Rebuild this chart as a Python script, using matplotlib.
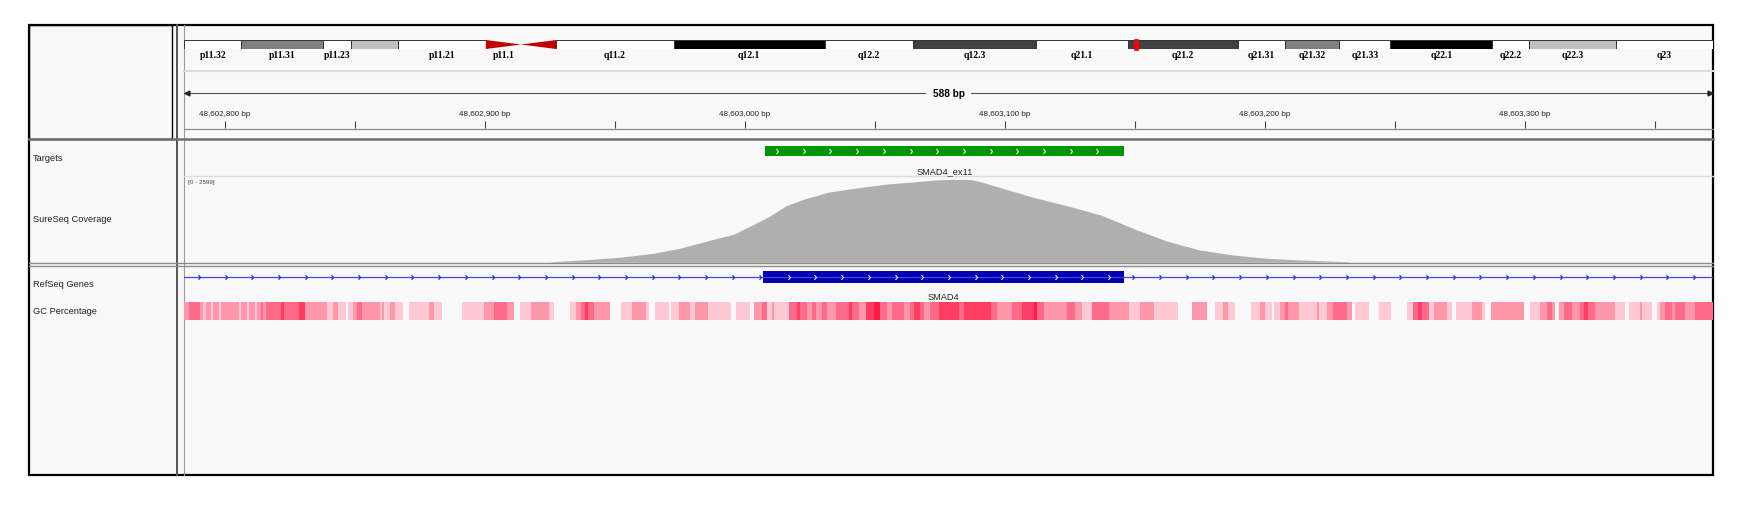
import matplotlib
matplotlib.use("Agg")
import matplotlib.pyplot as plt
from matplotlib.patches import Rectangle, Polygon
from matplotlib.path import Path
import numpy as np

plt.rcParams['font.family'] = ['Liberation Sans', 'DejaVu Sans']

W, H = 1745, 510

# region shown (chr18)
chrom_len = 78.077248          # Mb
view_start = 48602784.5
view_end = 48603372.5
locus_mb = 48.603

# cytobands of chr18 (Mb)
band_name = ['p11.32', 'p11.31', 'p11.23', '', 'p11.21', 'p11.1', '', 'q11.2', 'q12.1', 'q12.2',
             'q12.3', 'q21.1', 'q21.2', 'q21.31', 'q21.32', 'q21.33', 'q22.1', 'q22.2', 'q22.3', 'q23']
band_start = [0.0, 2.9, 7.1, 8.5, 10.9, 15.4, 17.2, 19.0, 25.0, 32.7,
              37.2, 43.5, 48.2, 53.8, 56.2, 59.0, 61.6, 66.8, 68.7, 73.1]
band_end = [2.9, 7.1, 8.5, 10.9, 15.4, 17.2, 19.0, 25.0, 32.7, 37.2,
            43.5, 48.2, 53.8, 56.2, 59.0, 61.6, 66.8, 68.7, 73.1, 78.077248]
band_stain = ['gneg', 'gpos50', 'gneg', 'gpos25', 'gneg', 'acen_p', 'acen_q', 'gneg', 'gpos100', 'gneg',
              'gpos75', 'gneg', 'gpos75', 'gneg', 'gpos50', 'gneg', 'gpos100', 'gneg', 'gpos25', 'gneg']
stain_color = {'gneg': 'white', 'gpos25': '#c0c0c0', 'gpos50': '#808080',
               'gpos75': '#404040', 'gpos100': 'black', 'acen_p': '#c00000', 'acen_q': '#c00000'}

tick_major = [48602800, 48602900, 48603000, 48603100, 48603200, 48603300]
tick_minor = [48602850, 48602950, 48603050, 48603150, 48603250, 48603350]

target_name = 'SMAD4_ex11'
target_start, target_end = 48603008, 48603146
gene_name = 'SMAD4'
exon_start, exon_end = 48603007, 48603146

# SureSeq coverage
cov_max = 2599
cov_pos = [48602925, 48602926, 48602939, 48602952, 48602965, 48602975, 48602986, 48602996, 48603003,
           48603010, 48603016, 48603023, 48603032, 48603042, 48603055, 48603068, 48603073, 48603080,
           48603087, 48603091, 48603098, 48603111, 48603124, 48603137, 48603150, 48603162, 48603175,
           48603188, 48603201, 48603214, 48603232, 48603233]
cov_val = [0, 19, 81, 157, 282, 438, 676, 886, 1168,
           1459, 1772, 1982, 2192, 2317, 2452, 2536, 2577, 2599,
           2590, 2520, 2348, 2035, 1772, 1481, 1043, 676, 385,
           229, 125, 72, 19, 0]

# GC percentage heat strip: segment starts (bp from view start) and shade level (0 = empty)
gc_start = [0, 1.8, 6.0, 7.3, 8.2, 10.2, 11.2, 13.4, 14.3, 21.0, 21.9, 24.0, 24.9, 27.1, 28.1,
            29.4, 30.4, 31.3, 37.1, 38.3, 44.1, 46.3, 55.0, 57.3, 59.1, 62.1, 63.1, 65.0, 66.3,
            68.5, 75.3, 76.2, 77.0, 79.1, 81.0, 84.2, 86.3, 94.1, 96.0, 99.2, 106.9, 115.2, 119.1,
            124.2, 126.8, 129.1, 133.2, 140.2, 142.1, 148.3, 150.5, 152.4, 154.3, 155.2, 157.5,
            163.9, 168.0, 172.3, 177.4, 178.7, 181.2, 186.4, 187.3, 190.2, 194.7, 196.6,
            201.4, 210.1, 212.3, 217.5, 219.3, 222.2, 224.2, 226.1, 227.0, 232.5, 235.7, 237.0,
            239.5, 241.5, 242.8, 245.3, 247.2, 250.5, 255.6, 256.9, 259.4, 262.4, 265.2, 267.7,
            270.3, 272.2, 276.7, 279.3, 280.6, 283.1, 284.4, 287.0, 290.2, 297.9, 299.8, 310.1,
            312.6, 318.4, 322.2, 326.7, 328.0, 330.6, 339.5, 342.7, 345.3, 349.2, 355.5, 363.2,
            367.7, 372.8, 382.4, 387.6, 393.3, 396.5, 399.5, 401.3, 404.2, 410.3, 413.6, 415.5,
            418.3, 419.2, 421.5, 423.5, 424.7, 428.6, 435.6, 436.6, 439.5, 442.0, 447.2, 449.1,
            450.4, 455.5, 459.7, 464.1, 470.2, 472.8, 474.7, 476.0, 478.6, 480.5, 485.6, 487.5,
            489.2, 495.2, 499.1, 500.4, 502.6, 515.3, 517.7, 521.6, 524.1, 526.1, 527.3, 528.6,
            530.5, 533.7, 536.7, 538.2, 540.1, 542.7, 550.4, 554.3, 555.5, 559.8, 560.7, 564.5,
            566.4, 567.7, 569.6, 572.2, 573.5, 577.3, 581.2, 588.0]
gc_shade = [2, 3, 2, 1, 2, 1, 2, 1, 2, 1, 2, 1, 2, 1, 2,
            3, 2, 3, 4, 3, 4, 2, 1, 2, 1, 0, 1, 2, 3,
            2, 1, 2, 1, 2, 1, 0, 1, 2, 1, 0, 1, 2, 3,
            2, 0, 1, 2, 1, 0, 1, 2, 3, 4, 3, 2,
            0, 1, 2, 1, 0, 1, 0, 1, 2, 1, 2,
            1, 0, 1, 0, 2, 3, 1, 2, 1, 3, 4, 3,
            2, 3, 2, 3, 2, 3, 4, 3, 2, 4, 5, 3,
            2, 3, 2, 3, 4, 3, 2, 3, 4, 3, 4, 3,
            2, 3, 4, 5, 3, 2, 3, 2, 1, 3, 2, 1,
            2, 1, 0, 2, 0, 1, 2, 1, 0, 1, 2, 1,
            0, 1, 2, 3, 2, 1, 2, 1, 2, 3, 2, 0,
            1, 0, 1, 0, 1, 3, 4, 3, 1, 2, 1, 0,
            1, 2, 1, 0, 2, 0, 1, 2, 3, 2, 0, 2,
            3, 2, 3, 4, 3, 2, 1, 0, 1, 2, 1, 0,
            1, 2, 3, 2, 3, 2, 3]
gc_colors = [None, '#ffc8d3', '#ff96aa', '#ff6a88', '#ff3d64', '#ff1a48']

track_names = ['Targets', 'SureSeq Coverage', 'RefSeq Genes', 'GC Percentage']

BG = '#f9f9f9'

fig = plt.figure(figsize=(W / 100, H / 100), dpi=100)


def px_axes(x0, y0, x1, y1):
    return fig.add_axes([x0 / W, 1 - y1 / H, (x1 - x0) / W, (y1 - y0) / H])


# frame / panel layout
bg = px_axes(0, 0, W, H)
bg.set_xlim(0, W)
bg.set_ylim(H, 0)
bg.axis('off')
L, T, R, B = 29, 25.6, 1713, 476
DL = 184.3
bg.add_patch(Rectangle((L, T), R - L, B - T, fc=BG, ec='none'))
bg.add_patch(Rectangle((L, T), 172 - L, 140 - T, fc='none', ec='black', lw=1.0))
bg.plot([176.8, 176.8], [T, B], color='#555555', lw=1.4)
bg.plot([DL, DL], [T, B], color='#9a9a9a', lw=0.8)
bg.plot([L, R], [140.3, 140.3], color='#6e6e6e', lw=1.8)
bg.plot([L, R], [264.0, 264.0], color='#8a8a8a', lw=1.0)
bg.plot([L, R], [266.8, 266.8], color='#8a8a8a', lw=1.0)
bg.plot([DL, R], [71.5, 71.5], color='#dcdcdc', lw=1.5)
bg.plot([DL, R], [130, 130], color='#8a8a8a', lw=0.9)
bg.plot([DL, R], [177.3, 177.3], color='#dcdcdc', lw=1.0)
bg.add_patch(Rectangle((L, T), R - L, B - T, fc='none', ec='black', lw=1.6))

for name, y in zip(track_names, [159, 220, 285, 311.6]):
    bg.text(33, y, name, fontsize=6.7, color='#222222', va='center', ha='left')

# ideogram
ideo = px_axes(DL, 41, R, 50)
ideo.set_xlim(0, chrom_len)
ideo.set_ylim(0, 1)
ideo.axis('off')
for name, s, e, st in zip(band_name, band_start, band_end, band_stain):
    c = stain_color[st]
    if st == 'acen_p':
        ideo.add_patch(Polygon([(s, 0), (s, 1), (e, 0.5)], closed=True, fc=c, ec='none'))
    elif st == 'acen_q':
        ideo.add_patch(Polygon([(s, 0.5), (e, 1), (e, 0)], closed=True, fc=c, ec='none'))
    else:
        ideo.add_patch(Rectangle((s, 0), e - s, 1, fc=c, ec='#333333', lw=0.7))
    if name:
        ideo.text((s + e) / 2, -0.6, name, fontsize=7, fontweight='bold', family='Liberation Serif',
                  ha='center', va='center', clip_on=False)
ideo.add_patch(Rectangle((locus_mb - 0.1, -0.15), 0.2, 1.3, fc='red', ec='red', lw=0.5, clip_on=False))

# data panel (genomic x, pixel y)
ax = px_axes(DL, 0, R, H)
ax.set_xlim(view_start, view_end)
ax.set_ylim(H, 0)
ax.axis('off')
ax.patch.set_alpha(0)

# ruler
mid = (view_start + view_end) / 2
ax.plot([view_start, view_end], [94.3, 94.3], color='#555555', lw=0.8)
ax.plot([view_start + 1.2], [94.3], marker='<', ms=3.5, color='#222222', clip_on=False)
ax.plot([view_end - 1.2], [94.3], marker='>', ms=3.5, color='#222222', clip_on=False)
ax.text(mid, 94.3, '%d bp' % round(view_end - view_start), fontsize=7.2, fontweight='bold',
        ha='center', va='center', bbox=dict(fc=BG, ec='none', pad=5))
ax.vlines(tick_major + tick_minor, 121.7, 129.3, color='#444444', lw=0.8)
for t in tick_major:
    ax.text(t, 114.3, f'{t:,} bp', fontsize=5.8, ha='center', va='center', color='#222222')

chev = Path([(-0.35, 0.8), (0.35, 0), (-0.35, -0.8)], [Path.MOVETO, Path.LINETO, Path.LINETO])
step = 10.27

# targets
ax.bar(x=target_start, height=9.4, width=target_end - target_start, bottom=147.3, align='edge',
       color='#009600', lw=0)
tx = np.arange(target_start + 4.5, target_end - 3, step)
ax.plot(tx, np.full(len(tx), 152.0), ls='none', marker=chev, ms=3.5, mec='white', mew=0.7, mfc='none')
ax.text((target_start + target_end) / 2, 171.7, target_name, fontsize=6.7, ha='center', va='center',
        color='#222222')

# gene
ax.plot([view_start, view_end], [277.7, 277.7], color='#4646e6', lw=0.9)
lx = np.arange(view_start + 5.6, view_end, step)
lx = lx[(lx < exon_start) | (lx > exon_end)]
ax.plot(lx, np.full(len(lx), 277.7), ls='none', marker=chev, ms=3.2, mec='#2a2ad0', mew=0.9, mfc='none')
ax.bar(x=exon_start, height=12.6, width=exon_end - exon_start, bottom=271.7, align='edge',
       color='#0000b0', lw=0)
ex = np.arange(exon_start + 10, exon_end - 3, step)
ax.plot(ex, np.full(len(ex), 278.0), ls='none', marker=chev, ms=3.5, mec='white', mew=0.7, mfc='none')
ax.text((exon_start + exon_end) / 2, 297.3, gene_name, fontsize=6.7, ha='center', va='center',
        color='#222222')

# GC strip
gs = np.array(gc_start[:-1])
gw = np.diff(gc_start)
for s, w, lev in zip(gs, gw, gc_shade):
    if lev:
        ax.bar(x=view_start + s, height=17.4, width=w, bottom=303.3, align='edge',
               color=gc_colors[lev], lw=0, antialiased=False)

# coverage
cov = px_axes(DL, 180.3, R, 263.3)
cov.set_xlim(view_start, view_end)
cov.set_ylim(0, cov_max)
cov.axis('off')
cov.patch.set_alpha(0)
cov.fill_between(cov_pos, cov_val, color='#afafaf', lw=0)
ax.text(view_start + 1.5, 182.5, '[0 - %d]' % cov_max, fontsize=4.5, ha='left', va='center',
        color='#444444')

fig.savefig('out.png', dpi=100, facecolor='white')
